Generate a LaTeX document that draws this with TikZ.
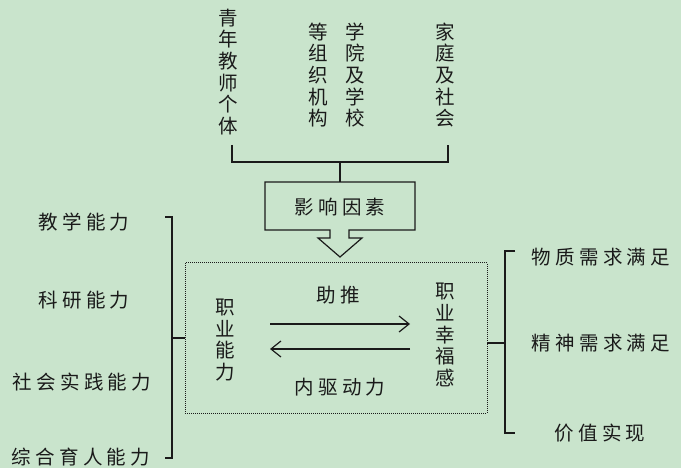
\documentclass[tikz,border=0pt]{standalone}
\usepackage{fontspec}
\newfontfamily\cjk{Noto Sans CJK SC}
\newfontfamily\cjksp[LetterSpace=22]{Noto Sans CJK SC}
\usetikzlibrary{arrows.meta}
\definecolor{bg}{HTML}{C9E4CC}
\definecolor{ink}{HTML}{1A1A1A}
\tikzset{
  vtext/.style={inner sep=0pt, align=center, text=ink, font=\cjk\fontsize{19.5}{21.7}\selectfont},
  htext/.style={inner sep=0pt, text=ink, font=\cjksp\fontsize{19.5}{21}\selectfont},
  brk/.style={draw=ink, line width=1.5pt},
  ln/.style={draw=ink, line width=1.2pt},
  arr/.style={draw=ink, line width=1.2pt, -{Straight Barb[length=10pt,width=16pt,line width=1.2pt]}},
}
\begin{document}
\begin{tikzpicture}[x=1pt,y=-1pt]
\fill[bg] (0,0) rectangle (681,468);
\useasboundingbox (0,0) rectangle (681,468);

% top factors
\node[vtext] (t1) at (228,72) {青\\年\\教\\师\\个\\体};
\node[vtext] (t2) at (318,75) {等\\组\\织\\机\\构};
\node[vtext] (t3) at (355,75) {学\\院\\及\\学\\校};
\node[vtext] (t4) at (445,75) {家\\庭\\及\\社\\会};

% influence box with arrow
\draw[ln, line join=miter] (265,182) -- (415,182) -- (415,230) -- (349,230) -- (349,238) -- (362,238)
  -- (340,257) -- (318,238) -- (330,238) -- (330,230) -- (265,230) -- cycle;
\node[htext] (inf) at (340,207) {影响因素};
\coordinate (infn) at (340,182);

% top bracket
\coordinate (b1) at (232,145);
\coordinate (b2) at (448,145);
\draw[brk] (b1) -- (b1 |- 0,162) -- (b2 |- 0,162) -- (b2);
\draw[brk] (infn |- 0,162) -- (infn);

% dotted box
\draw[ink, line width=1pt, dash pattern=on 1pt off 1pt] (185,263) rectangle (487,413);
\node (box) at (336,338) [minimum width=302pt, minimum height=150pt, inner sep=0pt] {};

\node[vtext] (ab) at (225,340) {职\\业\\能\\力};
\node[vtext] (hp) at (445,335) {职\\业\\幸\\福\\感};
\node[htext] (zt) at (338,295) {助推};
\node[htext] (nq) at (340,387) {内驱动力};
\coordinate (a1) at (270,324);
\coordinate (a2) at (410,324);
\coordinate (a3) at (410,349);
\coordinate (a4) at (270,349);
\draw[arr] (a1) -- (a2);
\draw[arr] (a3) -- (a4);

% left abilities
\node[htext] (l1) at (84,222) {教学能力};
\node[htext] (l2) at (84,300) {科研能力};
\node[htext] (l3) at (82,382) {社会实践能力};
\node[htext] (l4) at (81,457) {综合育人能力};
\coordinate (lt) at (165,217);
\coordinate (lb) at (165,458);
\draw[brk] (lt) -- (172,217) -- (172,458) -- (lb);
\draw[brk] (172,338) -- (box.west);

% right outcomes
\node[htext] (r1) at (601,257) {物质需求满足};
\node[htext] (r2) at (601,343) {精神需求满足};
\node[htext] (r3) at (600,433) {价值实现};
\coordinate (rt) at (515,251);
\coordinate (rb) at (515,433);
\draw[brk] (rt) -- (505,251) -- (505,433) -- (rb);
\draw[brk] (box.east |- 0,343) -- (505,343);
\end{tikzpicture}
\end{document}
